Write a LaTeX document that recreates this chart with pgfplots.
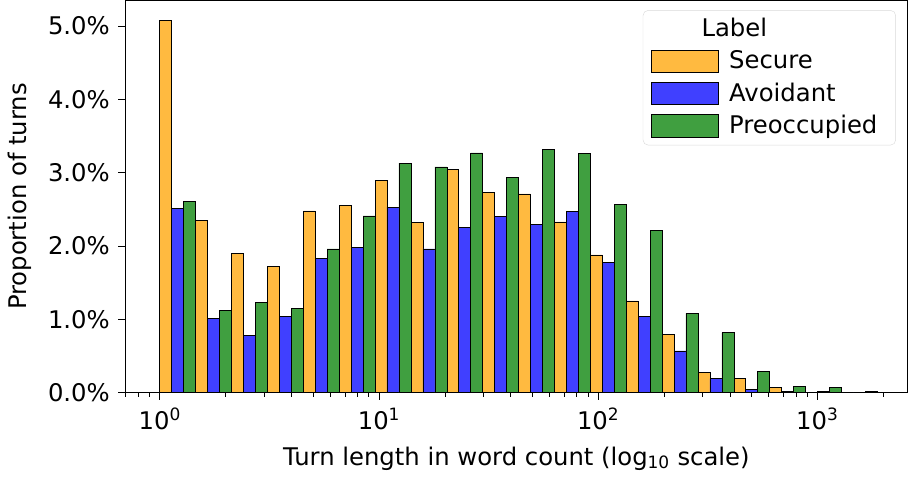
\documentclass[border=0pt]{standalone}
\usepackage{pgfplots}
\usepackage{pgfplotstable}
\usepackage{fontspec}
\setmainfont{DejaVu Sans}
\pgfplotsset{compat=1.18}
\definecolor{cS}{HTML}{FFBA40}
\definecolor{cA}{HTML}{4040FF}
\definecolor{cP}{HTML}{409F40}
\pgfplotstableread{
i S A P
0 5.08 2.51 2.61
1 2.35 1.01 1.12
2 1.90 0.78 1.23
3 1.72 1.04 1.15
4 2.48 1.83 1.96
5 2.55 1.98 2.41
6 2.90 2.53 3.13
7 2.32 1.96 3.08
8 3.04 2.25 3.27
9 2.73 2.40 2.94
10 2.71 2.30 3.32
11 2.33 2.47 3.26
12 1.88 1.78 2.57
13 1.25 1.04 2.21
14 0.79 0.57 1.08
15 0.28 0.19 0.82
16 0.19 0.04 0.29
17 0.07 0.02 0.08
18 0.004 0.014 0.07
19 0.0 0.0 0.012
}\data
\begin{document}
\fontsize{24}{28}\selectfont
\begin{tikzpicture}
\begin{axis}[
  scale only axis, width=770bp, height=386bp,
  xmin=-0.158, xmax=3.412, ymin=0, ymax=5.35,
  ybar, bar width=0.05457, bar shift=0pt,
  xtick={0,1,2,3},
  xticklabels={10\textsuperscript{0},10\textsuperscript{1},10\textsuperscript{2},10\textsuperscript{3}},
  minor xtick={-0.155,-0.097,-0.046,0.301,0.477,0.602,0.699,0.778,0.845,0.903,0.954,1.301,1.477,1.602,1.699,1.778,1.845,1.903,1.954,2.301,2.477,2.602,2.699,2.778,2.845,2.903,2.954,3.301},
  ytick={0,1,2,3,4,5},
  yticklabels={0.0\%,1.0\%,2.0\%,3.0\%,4.0\%,5.0\%},
  tick align=outside, tick pos=left,
  major tick length=7bp, minor tick length=4bp,
  tick style={black, line width=0.8bp},
  ticklabel style={font=\fontsize{24}{28}\selectfont},
  label style={font=\fontsize{24}{28}\selectfont},
  xlabel={Turn length in word count (log\textsubscript{10} scale)},
  ylabel={Proportion of turns},
  axis line style={line width=0.8bp},
  legend cell align=left,
  legend style={at={(0.985,0.975)}, anchor=north east, draw=black!15, rounded corners=5bp,
    font=\fontsize{24}{28}\selectfont, row sep=6bp, inner xsep=8bp, inner ysep=6bp,
    nodes={inner xsep=10bp}},
  legend image code/.code={\draw[#1, sharp corners, line width=0.8bp] (0bp,-11bp) rectangle (66bp,11bp);},
]
\addlegendimage{empty legend}
\addlegendentry{\hspace{-60bp}\makebox[130bp][c]{Label}}
\addplot[fill=cS, draw=black, line width=0.6bp] table[x expr=\thisrow{i}*0.1637+0.0273, y=S]{\data};
\addlegendentry{Secure}
\addplot[fill=cA, draw=black, line width=0.6bp] table[x expr=\thisrow{i}*0.1637+0.0818, y=A]{\data};
\addlegendentry{Avoidant}
\addplot[fill=cP, draw=black, line width=0.6bp] table[x expr=\thisrow{i}*0.1637+0.1364, y=P]{\data};
\addlegendentry{Preoccupied}
\end{axis}
\end{tikzpicture}
\end{document}
